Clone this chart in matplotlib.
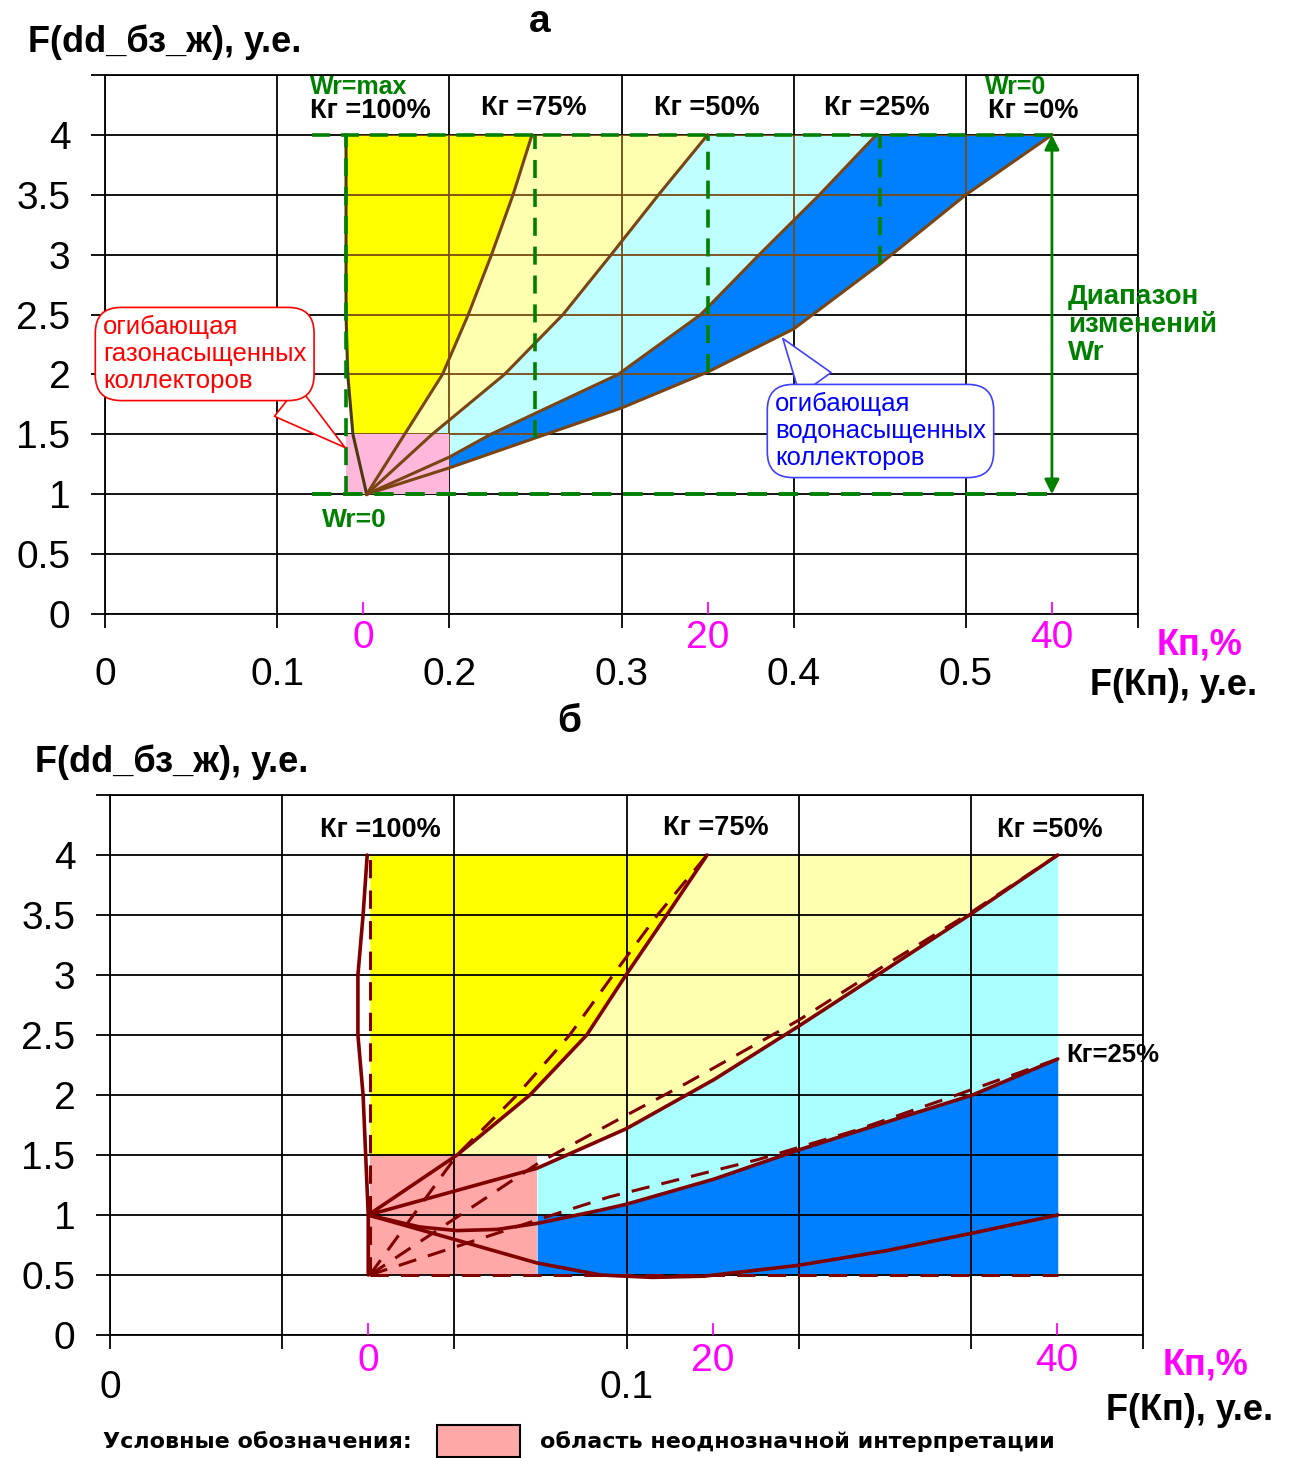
import numpy as np
import matplotlib
matplotlib.use('Agg')
import matplotlib.pyplot as plt
from matplotlib.path import Path
from matplotlib.patches import Rectangle

W, H = 1289, 1458
plt.rcParams['font.family'] = ['Liberation Sans', 'DejaVu Sans']

# ---------------- panel "а" ----------------
a_y = [1.0, 1.5, 2.0, 2.5, 3.0, 3.5, 4.0]
a_kg100_x = [0.152, 0.144, 0.141, 0.140, 0.140, 0.140, 0.140]
a_kg75_x = [0.152, 0.174, 0.196, 0.211, 0.2245, 0.237, 0.248]
a_kg50_x = [0.152, 0.190, 0.232, 0.266, 0.294, 0.3215, 0.350]
a_kg25_x = [0.152, 0.200, 0.224, 0.298, 0.346, 0.380, 0.415, 0.448]
a_kg25_y = [1.0, 1.31, 1.5, 2.0, 2.5, 3.0, 3.5, 4.0]
a_kg0_x = [0.152, 0.20, 0.25, 0.30, 0.35, 0.40, 0.45, 0.50, 0.55]
a_kg0_y = [1.0, 1.22, 1.47, 1.72, 2.02, 2.38, 2.92, 3.50, 4.0]
a_kg_labels = ['Кг =100%', 'Кг =75%', 'Кг =50%', 'Кг =25%', 'Кг =0%']
a_green_vx = [0.25, 0.35, 0.45]
a_pink = (0.14, 0.20, 1.0, 1.5)
a_wr = (0.12, 0.55, 1.0, 4.0)
a_kp = [0, 20, 40]
a_kp_f = [0.15, 0.35, 0.55]
a_xticks = [0, 0.1, 0.2, 0.3, 0.4, 0.5, 0.6]
a_xlabels = ['0', '0.1', '0.2', '0.3', '0.4', '0.5', '']

# ---------------- panel "б" ----------------
b_kg100_x = [0.050, 0.050, 0.0495, 0.049, 0.048, 0.048, 0.049, 0.0498]
b_kg100_y = [0.5, 1.0, 1.5, 2.0, 2.5, 3.0, 3.5, 4.0]
b_kg75_x = [0.050, 0.0672, 0.0813, 0.0923, 0.0999, 0.1078, 0.1156]
b_kg75_y = [1.0, 1.5, 2.0, 2.5, 3.0, 3.5, 4.0]
b_kg50_x = [0.050, 0.0827, 0.1000, 0.1170, 0.1332, 0.1500, 0.1671, 0.1835]
b_kg50_y = [1.0, 1.39, 1.72, 2.13, 2.57, 3.04, 3.52, 4.0]
b_kg25_x = [0.050, 0.060, 0.0672, 0.075, 0.0827, 0.0949, 0.100, 0.1170, 0.1332, 0.150, 0.167, 0.1835]
b_kg25_y = [1.0, 0.90, 0.87, 0.88, 0.93, 1.04, 1.09, 1.30, 1.54, 1.77, 2.00, 2.30]
b_kg0_x = [0.050, 0.0672, 0.0827, 0.095, 0.105, 0.115, 0.1332, 0.150, 0.1671, 0.1835]
b_kg0_y = [1.0, 0.79, 0.60, 0.50, 0.48, 0.49, 0.58, 0.70, 0.85, 1.00]
b_d100_x = [0.0503, 0.0503]
b_d100_y = [0.5, 4.0]
b_d75_x = [0.0503, 0.0672, 0.0788, 0.089, 0.0974, 0.106, 0.1156]
b_d75_y = [0.5, 1.5, 2.0, 2.5, 3.0, 3.5, 4.0]
b_d50_x = [0.0503, 0.0832, 0.0999, 0.1117, 0.1332, 0.150, 0.167, 0.1835]
b_d50_y = [0.5, 1.44, 1.83, 2.10, 2.62, 3.08, 3.53, 4.0]
b_d25_x = [0.0503, 0.0871, 0.0966, 0.1253, 0.1440, 0.1613, 0.1835]
b_d25_y = [0.5, 1.02, 1.15, 1.46, 1.70, 1.96, 2.30]
b_d0_x = [0.0503, 0.1835]
b_d0_y = [0.5, 0.5]
b_pink = (0.0503, 0.0827, 0.5, 1.5)
b_kp = [0, 20, 40]
b_kp_f = [0.05, 0.1167, 0.1833]
b_xticks = list(np.linspace(0, 0.2, 7))
b_xlabels = ['0', '', '', '0.1', '', '', '']

yticks = [0, 0.5, 1, 1.5, 2, 2.5, 3, 3.5, 4, 4.5]
ylabels = ['0', '0.5', '1', '1.5', '2', '2.5', '3', '3.5', '4', '']

YEL = '#FFFF00'
LYEL = '#FFFFB0'
BLUE = '#0080FF'
GREEN = '#008000'
MAG = '#FF00FF'


def ftext(px, py, s, **kw):
    fig.text(px / W, 1 - py / H, s, **kw)


def setup(ax, xt, xl, xmax, xpad):
    ax.set_xlim(0, xmax)
    ax.set_ylim(0, 4.5)
    ax.set_xticks(xt)
    ax.set_xticklabels(xl)
    ax.set_yticks(yticks)
    ax.set_yticklabels(ylabels)
    ax.tick_params(axis='both', direction='out', length=10, width=1.3,
                   labelsize=28, color='black')
    ax.tick_params(axis='x', pad=xpad)
    ax.tick_params(axis='y', pad=15)
    ax.grid(True, color='black', lw=1.3)
    for s in ax.spines.values():
        s.set_linewidth(1.3)


fig = plt.figure(figsize=(W / 100, H / 100), dpi=100)

# ================= panel а =================
ax = fig.add_axes([105 / W, 1 - 614 / H, (1138 - 105) / W, (614 - 75) / H])
setup(ax, a_xticks, a_xlabels, 0.6, 21)
ax.set_axisbelow(True)

yy = np.linspace(1.0, 4.0, 301)
x100 = np.interp(yy, a_y, a_kg100_x)
x75 = np.interp(yy, a_y, a_kg75_x)
x50 = np.interp(yy, a_y, a_kg50_x)
x25 = np.interp(yy, a_kg25_y, a_kg25_x)
x0 = np.interp(yy, a_kg0_y, a_kg0_x)
fills = [
    ax.fill_betweenx(yy, x100, x75, color=YEL, lw=0, zorder=1),
    ax.fill_betweenx(yy, x75, x50, color=LYEL, lw=0, zorder=1),
    ax.fill_betweenx(yy, x50, x25, color='#C0FFFF', lw=0, zorder=1),
    ax.fill_betweenx(yy, x25, x0, color=BLUE, lw=0, zorder=1),
]
# gridlines look brownish where they pass through the coloured area
clip = Path.make_compound_path(*[p for c in fills for p in c.get_paths()])
for gx in a_xticks[1:-1]:
    ln, = ax.plot([gx, gx], [0, 4.5], color='#7a4a12', lw=1.3, zorder=1.5)
    ln.set_clip_path(clip, ax.transData)
for gy in yticks[1:-1]:
    ln, = ax.plot([0, 0.6], [gy, gy], color='#7a4a12', lw=1.3, zorder=1.5)
    ln.set_clip_path(clip, ax.transData)

x1, x2, y1, y2 = a_pink
ax.add_patch(Rectangle((x1, y1), x2 - x1, y2 - y1, fc='#FFB8DC', ec='none', zorder=1.6))

lc = '#7a4512'
ax.plot(a_kg100_x, a_y, color='#4a3a10', lw=2.2, zorder=2.5)
ax.plot(a_kg75_x, a_y, color=lc, lw=2.2, zorder=2.5)
ax.plot(a_kg50_x, a_y, color=lc, lw=2.2, zorder=2.5)
ax.plot(a_kg25_x, a_kg25_y, color=lc, lw=2.2, zorder=2.5)
ax.plot(a_kg0_x, a_kg0_y, color=lc, lw=2.2, zorder=2.5)

# Wr range (green dashed)
gx1, gx2, gy1, gy2 = a_wr
dash = (0, (5, 3))
ax.plot([gx1, gx2], [gy2, gy2], color=GREEN, lw=2.6, ls=dash, zorder=3)
ax.plot([gx1, gx2], [gy1, gy1], color=GREEN, lw=2.8, ls=dash, zorder=3)
ax.plot([a_kg100_x[-1], a_kg100_x[-1]], [gy1, gy2], color=GREEN, lw=2.6, ls=dash, zorder=3)
for gx in a_green_vx:
    ax.plot([gx, gx], [np.interp(gx, a_kg0_x, a_kg0_y), gy2], color=GREEN,
            lw=2.6, ls=dash, zorder=3)
ax.annotate('', xy=(gx2, gy2), xytext=(gx2, gy1),
            arrowprops=dict(arrowstyle='<|-|>', color=GREEN, lw=2,
                            mutation_scale=22, shrinkA=0, shrinkB=0), zorder=4)

# Кп axis (magenta)
for kp, f in zip(a_kp, a_kp_f):
    ax.plot([f, f], [0, 0.09], color=MAG, lw=1.3, zorder=4)
    ax.text(f, -0.2, str(kp), color=MAG, fontsize=28, ha='center', va='center',
            clip_on=False)

# callouts
ax.annotate('огибающая\nгазонасыщенных\nколлекторов', xy=(0.1394, 1.39),
            xytext=(103 / W, 1 - 354 / H), textcoords='figure fraction',
            ha='left', va='center', color='red', fontsize=18.5, linespacing=1.15,
            bbox=dict(boxstyle='round,pad=0.3,rounding_size=1.0', fc='white',
                      ec='red', lw=1.2),
            arrowprops=dict(arrowstyle='wedge,tail_width=1.5,shrink_factor=0.5',
                            fc='white', ec='red', lw=1.2, relpos=(0.85, 0.0),
                            shrinkA=0, shrinkB=0), zorder=6)
ax.annotate('огибающая\nводонасыщенных\nколлекторов', xy=(0.3937, 2.30),
            xytext=(775 / W, 1 - 431 / H), textcoords='figure fraction',
            ha='left', va='center', color='blue', fontsize=18.5, linespacing=1.15,
            bbox=dict(boxstyle='round,pad=0.3,rounding_size=1.0', fc='white',
                      ec='#4040FF', lw=1.2),
            arrowprops=dict(arrowstyle='wedge,tail_width=1.5,shrink_factor=0.5',
                            fc='white', ec='#4040FF', lw=1.2, relpos=(0.22, 1.0),
                            shrinkA=0, shrinkB=0), zorder=6)

# texts panel а
ftext(540, 22, 'а', fontsize=28, fontweight='bold', ha='center', va='center')
ftext(28, 42, 'F(dd_бз_ж), у.е.', fontsize=26, fontweight='bold', ha='left', va='center')
ftext(310, 87, 'Wr=max', fontsize=18, fontweight='bold', color=GREEN, ha='left', va='center')
ftext(310, 111, a_kg_labels[0], fontsize=19.5, fontweight='bold', ha='left', va='center')
ftext(534, 108, a_kg_labels[1], fontsize=19.5, fontweight='bold', ha='center', va='center')
ftext(707, 108, a_kg_labels[2], fontsize=19.5, fontweight='bold', ha='center', va='center')
ftext(877, 108, a_kg_labels[3], fontsize=19.5, fontweight='bold', ha='center', va='center')
ftext(985, 87, 'Wr=0', fontsize=18, fontweight='bold', color=GREEN, ha='left', va='center')
ftext(988, 111, a_kg_labels[4], fontsize=19.5, fontweight='bold', ha='left', va='center')
ftext(322, 520, 'Wr=0', fontsize=19, fontweight='bold', color=GREEN, ha='left', va='center')
ftext(1068, 325, 'Диапазон\nизменений\nWr', fontsize=20, fontweight='bold',
      color=GREEN, ha='left', va='center', linespacing=1.1)
ftext(1200, 645, 'Кп,%', fontsize=26, fontweight='bold', color=MAG, ha='center', va='center')
ftext(1174, 685, 'F(Кп), у.е.', fontsize=26, fontweight='bold', ha='center', va='center')

# ================= panel б =================
ax = fig.add_axes([110 / W, 1 - 1335 / H, (1143 - 110) / W, (1335 - 795) / H])
setup(ax, b_xticks, b_xlabels, 0.2, 15)
ax.set_axisbelow(False)

yy = np.linspace(1.5, 4.0, 301)
ax.fill_betweenx(yy, np.interp(yy, b_d100_y, b_d100_x), np.interp(yy, b_kg75_y, b_kg75_x),
                 color=YEL, lw=0, zorder=1)
ax.fill_betweenx(yy, np.interp(yy, b_kg75_y, b_kg75_x), np.interp(yy, b_kg50_y, b_kg50_x),
                 color=LYEL, lw=0, zorder=1)
xx = np.linspace(b_pink[1], b_kg50_x[-1], 400)
s50 = np.interp(xx, b_kg50_x, b_kg50_y)
top = np.where(xx < 0.1, np.minimum(s50, 1.5), s50)
mid = np.maximum(1.0, np.interp(xx, b_kg25_x, b_kg25_y))
ax.fill_between(xx, mid, top, color='#AAFFFF', lw=0, zorder=1)
ax.fill_between(xx, 0.5, mid, color=BLUE, lw=0, zorder=1)
x1, x2, y1, y2 = b_pink
ax.add_patch(Rectangle((x1, y1), x2 - x1, y2 - y1, fc='#FFA8A8', ec='none', zorder=1.5))

rc = '#800000'
for xs, ys in [(b_kg100_x, b_kg100_y), (b_kg75_x, b_kg75_y), (b_kg50_x, b_kg50_y),
               (b_kg25_x, b_kg25_y), (b_kg0_x, b_kg0_y)]:
    ax.plot(xs, ys, color=rc, lw=2.6, zorder=4, solid_capstyle='round')
for xs, ys in [(b_d100_x, b_d100_y), (b_d75_x, b_d75_y), (b_d50_x, b_d50_y),
               (b_d25_x, b_d25_y), (b_d0_x, b_d0_y)]:
    ax.plot(xs, ys, color=rc, lw=2.2, ls=(0, (6, 4)), zorder=4)

for kp, f in zip(b_kp, b_kp_f):
    ax.plot([f, f], [0, 0.09], color=MAG, lw=1.3, zorder=4)
    ax.text(f, -0.22, str(kp), color=MAG, fontsize=28, ha='center', va='center',
            clip_on=False)

ftext(569, 722, 'б', fontsize=28, fontweight='bold', ha='center', va='center')
ftext(35, 762, 'F(dd_бз_ж), у.е.', fontsize=26, fontweight='bold', ha='left', va='center')
ftext(380, 830, 'Кг =100%', fontsize=19.5, fontweight='bold', ha='center', va='center')
ftext(716, 828, 'Кг =75%', fontsize=19.5, fontweight='bold', ha='center', va='center')
ftext(1050, 830, 'Кг =50%', fontsize=19.5, fontweight='bold', ha='center', va='center')
ftext(1066, 1055, 'Кг=25%', fontsize=18.5, fontweight='bold', ha='left', va='center')
ftext(1206, 1365, 'Кп,%', fontsize=26, fontweight='bold', color=MAG, ha='center', va='center')
ftext(1190, 1410, 'F(Кп), у.е.', fontsize=26, fontweight='bold', ha='center', va='center')

# legend
ftext(103, 1442, 'Условные обозначения:', fontsize=16, fontweight='bold',
      family='DejaVu Sans', ha='left', va='center')
fig.add_artist(Rectangle((437 / W, 1 - 1457 / H), 83 / W, 32 / H, transform=fig.transFigure,
                         fc='#FFA8A8', ec='black', lw=1.5))
ftext(540, 1442, 'область неоднозначной интерпретации', fontsize=16, fontweight='bold',
      family='DejaVu Sans', ha='left', va='center')

fig.savefig('out.png', dpi=100)
